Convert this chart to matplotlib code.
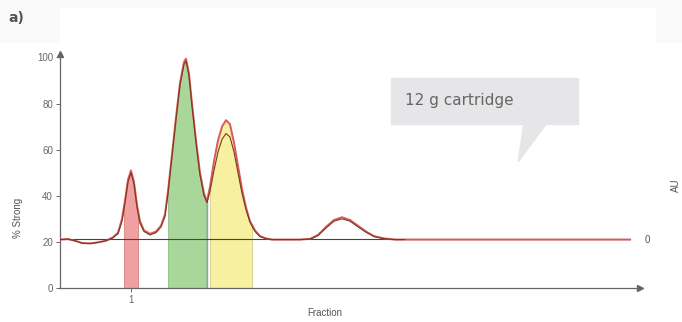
import numpy as np
import matplotlib.pyplot as plt
from matplotlib.patches import Rectangle, Polygon

# elution trace (% Strong) vs fraction position
trace_x = [0.0, 0.8, 1.5, 2.2, 3.0, 3.8, 4.6, 5.3, 5.8, 6.2, 6.5, 6.8, 7.1, 7.4,
           7.7, 8.0, 8.4, 9.0, 9.6, 10.1, 10.5, 10.8, 11.2, 11.6, 12.0, 12.4,
           12.6, 12.9, 13.2, 13.6, 14.0, 14.4, 14.7, 15.0, 15.4, 15.8, 16.2,
           16.6, 17.0, 17.4, 17.8, 18.2, 18.6, 19.0, 19.5, 20.0, 20.6, 21.2,
           24.0, 25.0, 25.8, 26.6, 27.4, 28.2, 29.0, 29.8, 30.6, 31.4, 32.4,
           33.5, 34.5, 57.0]
trace_red = [21.0, 21.2, 20.5, 19.5, 19.3, 19.8, 20.5, 22.0, 24.0, 30.0, 38.0,
             47.0, 51.0, 46.0, 36.0, 29.0, 25.0, 23.5, 24.5, 27.0, 32.0, 42.0,
             58.0, 74.0, 89.0, 98.0, 99.5, 93.0, 80.0, 64.0, 50.0, 41.0, 37.5,
             44.0, 55.0, 64.0, 70.0, 72.8, 71.0, 63.0, 53.0, 43.0, 35.0, 29.0,
             25.0, 22.5, 21.5, 21.0, 21.0, 21.3, 23.0, 26.5, 29.5, 30.7, 29.5,
             27.0, 24.5, 22.5, 21.5, 21.0, 21.0, 21.0]
# second trace stops at the end of the run window
trace_dark_x = trace_x[:-1]
trace_dark = [21.0, 21.2, 20.5, 19.5, 19.3, 19.8, 20.5, 21.8, 23.5, 29.0, 37.0,
              46.0, 50.0, 45.0, 35.0, 28.0, 24.5, 23.0, 24.0, 26.5, 31.0, 41.0,
              57.0, 73.0, 88.0, 97.0, 98.5, 92.0, 79.0, 63.0, 49.0, 40.0, 37.0,
              42.0, 51.0, 59.0, 64.5, 67.0, 65.5, 59.0, 50.0, 41.0, 34.0, 28.5,
              24.5, 22.3, 21.4, 21.0, 21.0, 21.2, 22.7, 26.0, 29.0, 30.0, 29.0,
              26.5, 24.2, 22.3, 21.4, 21.0, 21.0]
baseline = 21.2

# collected fraction windows
pools = [(6.4, 7.8, '#f0a0a0', '#d98080'),
         (10.8, 14.6, '#a9d69a', '#8cbf82'),
         (15.0, 19.2, '#f6f0a0', '#d8cf86')]

yticks = [0, 20, 40, 60, 80, 100]

plt.rcParams['font.family'] = ['Liberation Sans', 'DejaVu Sans']

fig = plt.figure(figsize=(6.82, 3.22), dpi=100, facecolor='#fafafa')
W, H = 682.0, 322.0

def fx(px):
    return px / W

def fy(py):
    return 1 - py / H

# white panel behind the chart
fig.patches.append(Rectangle((fx(60), fy(43)), fx(655) - fx(60), fy(8) - fy(43),
                             transform=fig.transFigure, color='white', zorder=-2))
fig.patches.append(Rectangle((0, 0), 1, fy(43), transform=fig.transFigure,
                             color='white', zorder=-2))

ax = fig.add_axes([fx(60), fy(288), fx(640) - fx(60), fy(54) - fy(288)])
ax.set_facecolor('none')
ax.set_xlim(0, 58)
ax.set_ylim(0, 101.5)

for x0, x1, fc, ec in pools:
    xx = np.linspace(x0, x1, 60)
    yy = np.interp(xx, trace_x, trace_red)
    ax.fill_between(xx, 0, yy, color=fc, lw=0, zorder=1)
    ax.plot([x0, x0], [0, yy[0]], color=ec, lw=0.6, zorder=1)
    ax.plot([x1, x1], [0, yy[-1]], color=ec, lw=0.6, zorder=1)

# split between the two main pools
ax.plot([14.7, 14.7], [0, 37.5], color='#8aa6b8', lw=1.0, zorder=2)

ax.plot([0, 57], [baseline, baseline], color='#444444', lw=0.8, zorder=2)
ax.plot(trace_x, trace_red, color='#d85a5a', lw=1.4, zorder=3)
ax.plot(trace_dark_x, trace_dark, color='#7a3a22', lw=0.8, zorder=4)

for s in ['top', 'right']:
    ax.spines[s].set_visible(False)
for s in ['left', 'bottom']:
    ax.spines[s].set_color('#666666')
    ax.spines[s].set_linewidth(0.9)

ax.set_yticks(yticks)
ax.set_yticklabels([str(v) for v in yticks])
ax.set_xticks([7.1])
ax.set_xticklabels(['1'])
ax.tick_params(colors='#666666', labelsize=7, length=3, width=0.7, pad=2)

# axis arrows
ax.plot(0, 1, marker='^', ms=4, color='#666666', transform=ax.transAxes,
        clip_on=False)
ax.plot(1, 0, marker='>', ms=4, color='#666666', transform=ax.transAxes,
        clip_on=False)

fig.text(fx(325), fy(313), 'Fraction', fontsize=7, color='#555555',
         ha='center', va='center')
fig.text(fx(18), fy(218), '% Strong', fontsize=7, color='#555555',
         ha='center', va='center', rotation=90)
fig.text(fx(647), fy(240), '0', fontsize=7, color='#555555',
         ha='center', va='center')
fig.text(fx(676), fy(185), 'AU', fontsize=7, color='#555555',
         ha='center', va='center', rotation=90)
fig.text(fx(8), fy(18), 'a)', fontsize=10, fontweight='bold', color='#555555',
         ha='left', va='center', family='DejaVu Sans')

# callout label
fig.patches.append(Rectangle((fx(391), fy(124)), fx(578) - fx(391), fy(78) - fy(124),
                             transform=fig.transFigure, color='#e6e6e8', zorder=5))
fig.patches.append(Polygon([(fx(524), fy(123)), (fx(547), fy(123)), (fx(518), fy(162))],
                           closed=True, transform=fig.transFigure, color='#e6e6e8',
                           zorder=5))
fig.text(fx(405), fy(101), '12 g cartridge', fontsize=11, color='#666666',
         ha='left', va='center', zorder=6, family='DejaVu Sans')

fig.savefig('out.png', dpi=100, facecolor=fig.get_facecolor())
